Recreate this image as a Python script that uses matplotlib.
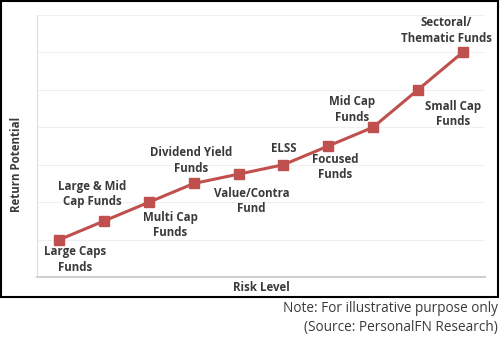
import matplotlib
matplotlib.use("Agg")
import matplotlib.pyplot as plt
from matplotlib.patches import Rectangle

# fund categories in order of risk, with a relative return level
funds = ["Large Caps\nFunds", "Large & Mid\nCap Funds", "Multi Cap\nFunds",
         "Dividend Yield\nFunds", "Value/Contra\nFund", "ELSS",
         "Focused\nFunds", "Mid Cap\nFunds", "Small Cap\nFunds",
         "Sectoral/\nThematic Funds"]
returns = [1.0, 1.5, 2.0, 2.5, 2.75, 3.0, 3.5, 4.0, 5.0, 6.0]

# label offsets from each point, in pixels (dx, dy)
label_offsets = [(16, -20), (-12, 27), (21, -23), (-3, 23), (13, -27),
                 (0, 16), (7, -21), (-21, 18), (35, -24), (-16, 22)]

red = "#c0504d"
txt = "#3a3a3a"
plt.rcParams['font.family'] = ['Open Sans', 'DejaVu Sans']

fig = plt.figure(figsize=(5, 3.4), dpi=100)
ax = fig.add_axes([0.074, 0.185, 0.896, 0.771])

x = list(range(1, len(funds) + 1))
ax.plot(x, returns, color=red, lw=2.2, marker="s", ms=6.5, mec=red, mfc=red, zorder=3)

for xi, yi, name, (dx, dy) in zip(x, returns, funds, label_offsets):
    ax.annotate(name, (xi, yi), xytext=(dx, dy), textcoords="offset pixels",
                ha="center", va="center", fontsize=8.3, fontweight="bold",
                color=txt, linespacing=1.25)

ax.set_xlim(0.5, 10.5)
ax.set_ylim(0, 7)
ax.set_yticks(range(0, 8))
ax.set_xticks([])
ax.tick_params(left=False, labelleft=False)
ax.grid(axis="y", color="#efefef", lw=0.8)
for s in ["top", "right"]:
    ax.spines[s].set_visible(False)
ax.spines["left"].set_color("#dddddd")
ax.spines["bottom"].set_color("#d0d0d0")
ax.spines["bottom"].set_linewidth(1.5)

ax.set_ylabel("Return Potential", fontsize=8.3, fontweight="bold", color=txt)
ax.yaxis.set_label_coords(-0.031, 0.43)
ax.set_xlabel("Risk Level", fontsize=8.3, fontweight="bold", color=txt, labelpad=3)

fig.patches.append(Rectangle((0.002, 1 - 297 / 340), 0.994, 297 / 340 - 0.003,
                             transform=fig.transFigure, fill=False,
                             edgecolor="black", lw=1.5))

fig.text(0.996, 1 - 309 / 340, "Note: For illustrative purpose only",
         ha="right", va="center", fontsize=9.8, color=txt)
fig.text(0.996, 1 - 327 / 340, "(Source: PersonalFN Research)",
         ha="right", va="center", fontsize=9.8, color=txt)

fig.savefig("out.png", dpi=100)
